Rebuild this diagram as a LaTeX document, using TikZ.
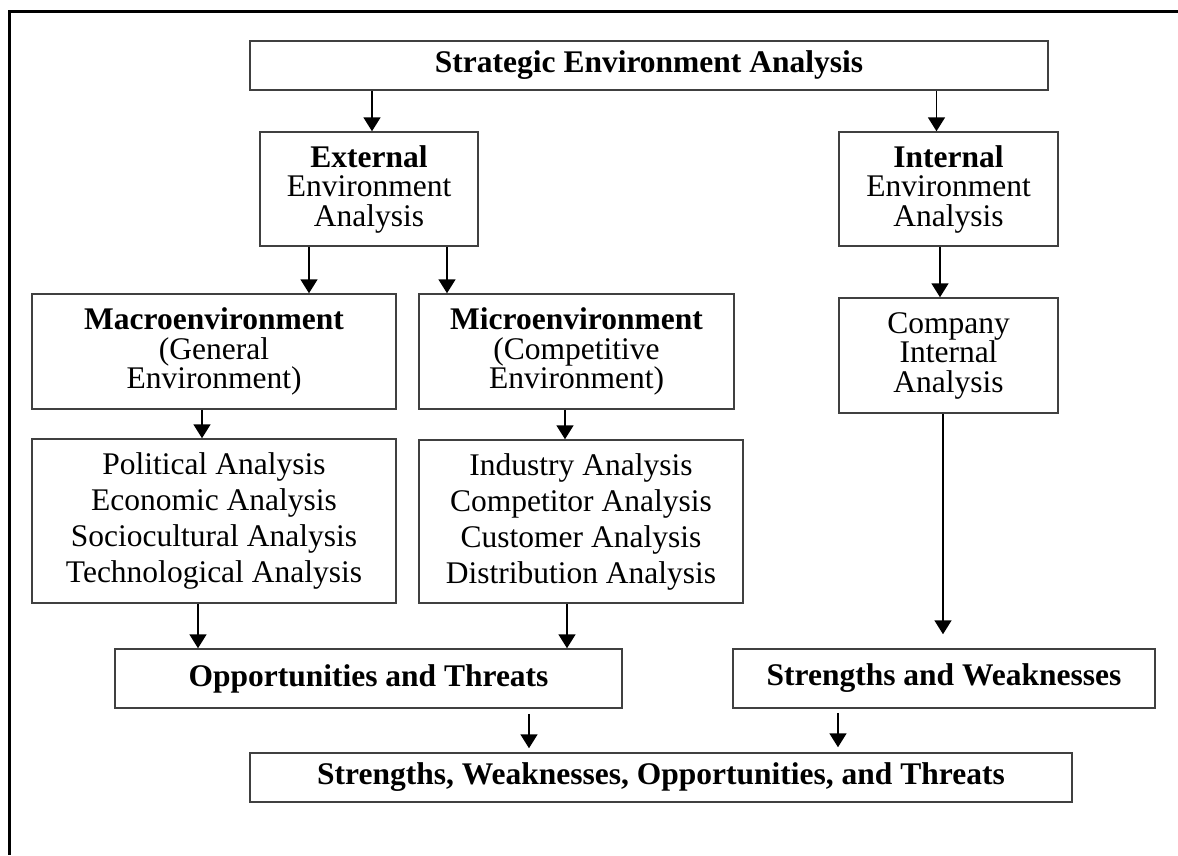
\documentclass[tikz,border=0pt]{standalone}
\usepackage{fontspec}
\setmainfont{Liberation Serif}
\usetikzlibrary{arrows.meta}
\tikzset{
    box/.style={draw=black!75, line width=1.5pt, inner sep=0pt, align=center, font=\fontsize{31.5}{29.5}\selectfont},
    listbox/.style={box, font=\fontsize{31.5}{36}\selectfont},
    arr/.style={line width=1.8pt, -{Triangle[width=17pt,length=14pt]}}
}
\begin{document}
\begin{tikzpicture}[x=1pt, y=-1pt]
    \useasboundingbox (0,0) rectangle (1178,855);
    \draw[line width=3pt] (1178,11) -- (9.5,11) -- (9.5,855);

    \node[box, minimum width=798pt, minimum height=49pt] (sea) at (649,65.5) {\textbf{Strategic Environment Analysis}};
    \node[box, minimum width=218pt, minimum height=114pt] (ext) at (369,189) {\textbf{External}\\Environment\\Analysis};
    \node[box, minimum width=219pt, minimum height=114pt] (int) at (948.5,189) {\textbf{Internal}\\Environment\\Analysis};
    \node[box, minimum width=364pt, minimum height=115pt] (macro) at (214,351.5) {\textbf{Macroenvironment}\\(General\\Environment)};
    \node[box, minimum width=315pt, minimum height=115pt] (micro) at (576.5,351.5) {\textbf{Microenvironment}\\(Competitive\\Environment)};
    \node[box, minimum width=219pt, minimum height=115pt] (comp) at (948.5,355.5) {Company\\Internal\\Analysis};
    \node[listbox, minimum width=364pt, minimum height=164pt] (pol) at (214,521) {Political Analysis\\Economic Analysis\\Sociocultural Analysis\\Technological Analysis};
    \node[listbox, minimum width=324pt, minimum height=163pt] (ind) at (581,521.5) {Industry Analysis\\Competitor Analysis\\Customer Analysis\\Distribution Analysis};
    \node[box, minimum width=507pt, minimum height=59pt] (ot) at (368.5,678.5) {\textbf{Opportunities and Threats}};
    \node[box, minimum width=422pt, minimum height=59pt] (sw) at (944,678.5) {\textbf{Strengths and Weaknesses}};
    \node[box, minimum width=822pt, minimum height=49pt] (swot) at (661,777.5) {\textbf{Strengths, Weaknesses, Opportunities, and Threats}};

    \coordinate (a1) at ([xshift=3pt]ext.north);
    \coordinate (a2) at ([xshift=-12pt]int.north);
    \coordinate (a3) at ([xshift=-60pt]ext.south);
    \coordinate (a4) at ([xshift=78pt]ext.south);
    \coordinate (a5) at ([xshift=-8.5pt]int.south);
    \coordinate (a6) at ([xshift=-12pt]macro.south);
    \coordinate (a7) at ([xshift=-11.5pt]micro.south);
    \coordinate (a8) at ([xshift=-16pt]pol.south);
    \coordinate (a9) at ([xshift=-14pt]ind.south);
    \coordinate (a10) at ([xshift=-5.5pt]comp.south);
    \coordinate (a11) at ([xshift=-132pt]swot.north);
    \coordinate (a12) at ([xshift=177pt]swot.north);

    \draw[arr] (a1 |- sea.south) -- (a1);
    \draw[arr] (a2 |- sea.south) -- (a2);
    \draw[arr] (a3) -- (a3 |- macro.north);
    \draw[arr] (a4) -- (a4 |- micro.north);
    \draw[arr] (a5) -- (a5 |- comp.north);
    \draw[arr] (a6) -- (a6 |- pol.north);
    \draw[arr] (a7) -- (a7 |- ind.north);
    \draw[arr] (a8) -- (a8 |- ot.north);
    \draw[arr] (a9) -- (a9 |- ot.north);
    \draw[arr, shorten >=14pt] (a10) -- (a10 |- sw.north);
    \draw[arr, shorten <=5pt, shorten >=4pt] (a11 |- ot.south) -- (a11);
    \draw[arr, shorten <=4pt, shorten >=5pt] (a12 |- sw.south) -- (a12);
\end{tikzpicture}
\end{document}
